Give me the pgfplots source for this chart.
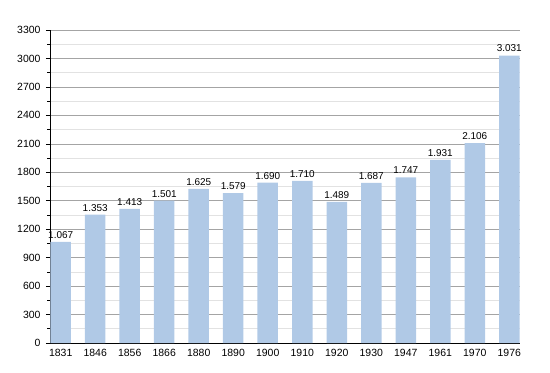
\documentclass[border=0pt]{standalone}
\usepackage{fontspec}
\setmainfont{Liberation Sans}
\usepackage{pgfplots}
\pgfplotsset{compat=1.18}
\usepackage{pgfplotstable}
\definecolor{barblue}{HTML}{B0C9E6}
\definecolor{majgrid}{HTML}{A4A4A4}
\definecolor{mingrid}{HTML}{E2E2E2}
\pgfplotstableread{
x y lab
0 1067 1.067
1 1353 1.353
2 1413 1.413
3 1501 1.501
4 1625 1.625
5 1579 1.579
6 1690 1.690
7 1710 1.710
8 1489 1.489
9 1687 1.687
10 1747 1.747
11 1931 1.931
12 2106 2.106
13 3031 3.031
}\data
\begin{document}
\begin{tikzpicture}
\begin{axis}[
  scale only axis,
  width=470bp, height=313bp,
  xmin=-0.31, xmax=13.31,
  ymin=0, ymax=3300,
  ytick={0,300,...,3300},
  minor y tick num=1,
  xtick={0,...,13},
  xticklabels={1831,1846,1856,1866,1880,1890,1900,1910,1920,1930,1947,1961,1970,1976},
  axis x line*=bottom,
  axis y line*=left,
  axis line style={black, line width=0.8pt},
  x axis line style={-},
  y axis line style={-},
  ymajorgrids, yminorgrids,
  major grid style={majgrid, line width=0.6pt},
  minor grid style={mingrid, line width=0.6pt},
  major x tick style={draw=none},
  ytick style={black, line width=0.6pt},
  tick align=outside,
  major tick length=4bp,
  minor tick length=2.5bp,
  tick label style={font=\fontsize{10.5}{12}\selectfont},
  yticklabel style={xshift=-2bp},
  xticklabel style={yshift=1.5bp},
  /pgf/number format/assume math mode=true,
  scaled y ticks=false,
  yticklabel={\pgfmathprintnumber[1000 sep={}]{\tick}},
]
\addplot[ybar, bar width=20.5bp, fill=barblue, draw=none,
  nodes near coords, point meta=explicit symbolic,
  every node near coord/.style={font=\fontsize{10}{12}\selectfont, black, yshift=0bp}]
  table[x=x, y=y, meta=lab] {\data};
\end{axis}
\useasboundingbox ([xshift=-50bp,yshift=-30bp]current axis.south west) rectangle ++(550bp,373bp);
\end{tikzpicture}
\end{document}
